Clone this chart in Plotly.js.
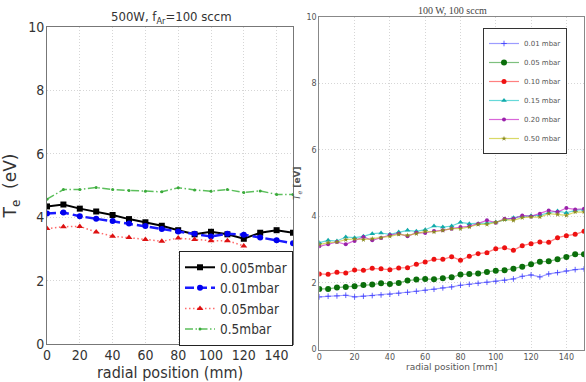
<!DOCTYPE html>
<html>
<head>
<meta charset="utf-8">
<script src="https://cdn.plot.ly/plotly-3.0.1.min.js"></script>
<style>html,body{margin:0;padding:0;background:#fff;}</style>
</head>
<body>
<div id="chart" style="width:586px;height:382px;"></div>
<script>
// ---- Left panel data: 500W, f_Ar = 100 sccm ----
const leftX = [0,10,20,30,40,50,60,70,80,90,100,110,120,130,140,150];
const leftX005 = [0,10,20,30,40,50,60,70,80,90,100,110,120];
const te_0005 = [4.34,4.40,4.27,4.18,4.07,3.94,3.84,3.73,3.59,3.46,3.54,3.46,3.32,3.51,3.59,3.51];
const te_001  = [4.12,4.15,4.03,3.95,3.88,3.80,3.72,3.63,3.55,3.48,3.39,3.48,3.45,3.36,3.27,3.18];
const te_005  = [3.64,3.70,3.71,3.53,3.40,3.36,3.30,3.24,3.34,3.30,3.26,3.26,3.09];
const te_05   = [4.57,4.87,4.87,4.94,4.87,4.84,4.82,4.80,4.93,4.86,4.82,4.87,4.78,4.83,4.72,4.72];
const leftNames = ['0.005mbar','0.01mbar','0.05mbar','0.5mbar'];

// ---- Right panel data: 100 W, 100 sccm ----
const rightX = [0,5,10,15,20,25,30,35,40,45,50,55,60,65,70,75,80,85,90,95,100,105,110,115,120,125,130,135,140,145,150];
const r_001 = [1.58,1.60,1.61,1.63,1.58,1.60,1.62,1.64,1.66,1.69,1.72,1.75,1.78,1.81,1.85,1.88,1.93,1.96,1.99,2.02,2.05,2.08,2.12,2.20,2.24,2.18,2.27,2.31,2.36,2.40,2.42];
const r_005 = [1.82,1.82,1.86,1.88,1.90,1.94,1.95,1.99,1.97,2.00,2.07,2.10,2.12,2.11,2.14,2.17,2.25,2.27,2.28,2.33,2.37,2.38,2.43,2.49,2.56,2.64,2.65,2.71,2.78,2.86,2.86];
const r_010 = [2.27,2.26,2.32,2.30,2.39,2.38,2.44,2.43,2.40,2.45,2.46,2.56,2.63,2.71,2.71,2.79,2.68,2.80,2.88,2.91,3.03,3.06,2.98,3.12,3.18,3.23,3.22,3.36,3.42,3.46,3.55];
const r_015 = [3.21,3.28,3.26,3.38,3.36,3.40,3.48,3.50,3.46,3.53,3.58,3.55,3.60,3.71,3.68,3.71,3.82,3.78,3.78,3.80,3.83,3.90,3.96,4.00,4.02,4.04,4.11,4.16,4.11,4.18,4.21];
const r_020 = [3.10,3.16,3.23,3.16,3.26,3.38,3.28,3.35,3.44,3.48,3.40,3.51,3.50,3.56,3.58,3.63,3.68,3.70,3.78,3.88,3.81,3.93,3.93,4.03,4.00,4.08,4.18,4.13,4.25,4.21,4.23];
const r_050 = [3.15,3.21,3.23,3.30,3.32,3.30,3.33,3.36,3.40,3.46,3.43,3.48,3.55,3.53,3.58,3.63,3.63,3.68,3.76,3.76,3.82,3.90,3.88,3.96,3.98,3.98,4.08,4.06,4.03,4.13,4.13];
const rightNames = ['0.01 mbar','0.05 mbar','0.10 mbar','0.15 mbar','0.20 mbar','0.50 mbar'];

const W = 586, H = 382;
const px = v => v / W;
const py = v => 1 - v / H;
const narrow = '"Liberation Sans Narrow", "DejaVu Sans Condensed", "Arial Narrow", sans-serif';
const dejavu = '"DejaVu Sans", sans-serif';

const traces = [
  {x: leftX, y: te_0005, name: leftNames[0], type: 'scatter', mode: 'lines+markers',
   line: {color: '#000000', width: 2}, marker: {symbol: 'square', size: 6, color: '#000000'},
   xaxis: 'x', yaxis: 'y', legend: 'legend'},
  {x: leftX, y: te_001, name: leftNames[1], type: 'scatter', mode: 'lines+markers',
   line: {color: '#1a1aff', width: 2.5, dash: '9px,4px'}, marker: {symbol: 'circle', size: 6, color: '#0000ee'},
   xaxis: 'x', yaxis: 'y', legend: 'legend'},
  {x: leftX005, y: te_005, name: leftNames[2], type: 'scatter', mode: 'lines+markers',
   line: {color: '#ff6b6b', width: 1.5, dash: '1.5px,2.5px'}, marker: {symbol: 'triangle-up', size: 6, color: '#dd1111'},
   xaxis: 'x', yaxis: 'y', legend: 'legend'},
  {x: leftX, y: te_05, name: leftNames[3], type: 'scatter', mode: 'lines+markers',
   line: {color: '#5cbf5c', width: 1.5, dash: '8px,2.5px,1.5px,2.5px'}, marker: {symbol: 'circle', size: 3, color: '#3aaa3a'},
   xaxis: 'x', yaxis: 'y', legend: 'legend'},

  {x: rightX, y: r_001, name: rightNames[0], type: 'scatter', mode: 'lines+markers',
   line: {color: 'rgba(90,90,255,0.6)', width: 1.2}, marker: {symbol: 'cross-thin', size: 4, color: 'rgba(60,60,255,0.8)', line: {width: 1, color: 'rgba(60,60,255,0.8)'}},
   xaxis: 'x2', yaxis: 'y2', legend: 'legend2'},
  {x: rightX, y: r_005, name: rightNames[1], type: 'scatter', mode: 'lines+markers',
   line: {color: 'rgba(40,150,40,0.6)', width: 1.2}, marker: {symbol: 'circle', size: 6, color: '#0a6e0a'},
   xaxis: 'x2', yaxis: 'y2', legend: 'legend2'},
  {x: rightX, y: r_010, name: rightNames[2], type: 'scatter', mode: 'lines+markers',
   line: {color: 'rgba(255,60,60,0.65)', width: 1.2}, marker: {symbol: 'circle', size: 5, color: '#ee1111'},
   xaxis: 'x2', yaxis: 'y2', legend: 'legend2'},
  {x: rightX, y: r_015, name: rightNames[3], type: 'scatter', mode: 'lines+markers',
   line: {color: 'rgba(0,191,191,0.6)', width: 1.2}, marker: {symbol: 'triangle-up', size: 5, color: '#11aaaa'},
   xaxis: 'x2', yaxis: 'y2', legend: 'legend2'},
  {x: rightX, y: r_020, name: rightNames[4], type: 'scatter', mode: 'lines+markers',
   line: {color: 'rgba(191,0,191,0.6)', width: 1.2}, marker: {symbol: 'circle', size: 4, color: '#9922aa'},
   xaxis: 'x2', yaxis: 'y2', legend: 'legend2'},
  {x: rightX, y: r_050, name: rightNames[5], type: 'scatter', mode: 'lines+markers',
   line: {color: 'rgba(191,191,0,0.6)', width: 1.2}, marker: {symbol: 'star', size: 4, color: '#8a8a22'},
   xaxis: 'x2', yaxis: 'y2', legend: 'legend2'}
];

const gridCommon = {showgrid: true, gridcolor: '#d6d6d6', griddash: '1px,2px', gridwidth: 1,
  showline: true, mirror: true, ticks: '', zeroline: false, fixedrange: true};

const layout = {
  width: W, height: H,
  margin: {l: 0, r: 0, t: 0, b: 0},
  paper_bgcolor: '#ffffff', plot_bgcolor: '#ffffff',
  showlegend: true,
  xaxis: Object.assign({}, gridCommon, {
    domain: [px(47), px(293)], anchor: 'y', range: [0, 150], tick0: 0, dtick: 20,
    linecolor: '#777', linewidth: 1, ticklabelstandoff: -2,
    tickfont: {family: narrow, size: 14, color: '#333'},
    title: {text: 'radial position (mm)', font: {family: narrow, size: 16, color: '#333'}, standoff: 0}
  }),
  yaxis: Object.assign({}, gridCommon, {
    domain: [py(344), py(27)], anchor: 'x', range: [0, 10], tick0: 0, dtick: 2,
    linecolor: '#777', linewidth: 1, ticklabelstandoff: -1,
    tickfont: {family: narrow, size: 14, color: '#333'},
    title: {text: 'T<sub>e</sub>  (eV)', font: {family: dejavu, size: 17, color: '#333'}, standoff: 8}
  }),
  xaxis2: Object.assign({}, gridCommon, {
    domain: [px(319.3), px(584)], anchor: 'y2', range: [0, 150], tick0: 0, dtick: 20,
    linecolor: '#888', linewidth: 1,
    tickfont: {family: dejavu, size: 8, color: '#555'},
    title: {text: 'radial position [mm]', font: {family: dejavu, size: 9, color: '#555'}, standoff: 2}
  }),
  yaxis2: Object.assign({}, gridCommon, {
    domain: [py(349.5), py(16.7)], anchor: 'x2', range: [0, 10], tick0: 0, dtick: 2,
    linecolor: '#888', linewidth: 1,
    tickfont: {family: dejavu, size: 8, color: '#555'},
    title: {text: '<i>T<sub>e</sub></i> <b>[eV]</b>', font: {family: dejavu, size: 9, color: '#555'}, standoff: 4}
  }),
  legend: {
    x: px(293), y: py(251), xanchor: 'right', yanchor: 'top',
    bgcolor: '#ffffff', bordercolor: '#222', borderwidth: 1,
    font: {family: narrow, size: 13.5, color: '#333'}, itemwidth: 30, tracegroupgap: 0
  },
  legend2: {
    x: px(567), y: py(28), xanchor: 'right', yanchor: 'top',
    bgcolor: '#ffffff', bordercolor: '#333', borderwidth: 1,
    font: {family: dejavu, size: 7, color: '#555'}, itemwidth: 30, tracegroupgap: 0
  },
  annotations: [
    {xref: 'paper', yref: 'paper', x: px(171), y: py(18), xanchor: 'center', yanchor: 'middle',
     text: '500W, f<sub>Ar</sub>=100 sccm', showarrow: false, font: {family: narrow, size: 13, color: '#333'}},
    {xref: 'paper', yref: 'paper', x: px(452), y: py(11), xanchor: 'center', yanchor: 'middle',
     text: '100 W, 100 sccm', showarrow: false, font: {family: '"Liberation Serif", "DejaVu Serif", serif', size: 10, color: '#444'}}
  ]
};

Plotly.newPlot('chart', traces, layout, {displayModeBar: false, staticPlot: true});
</script>
</body>
</html>
